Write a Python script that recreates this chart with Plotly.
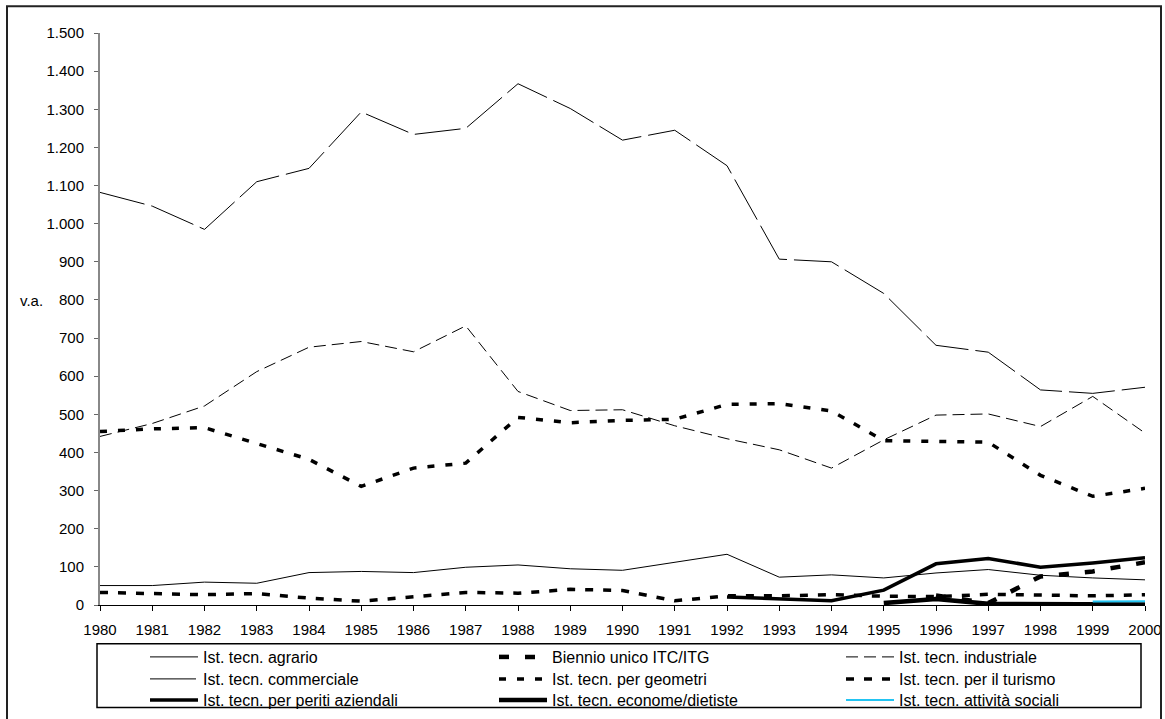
import plotly.graph_objects as go

# Anni scolastici
years = list(range(1980, 2001))

# Valori assoluti per tipo di istituto tecnico
agrario = [51, 51, 60, 57, 85, 88, 85, 99, 105, 95, 91, 112, 133, 73, 79, 71, 84, 93, 78, 71, 66]
biennio_unico = [None] * 16 + [25, 5, 75, 88, 112]
industriale = [442, 476, 522, 612, 676, 691, 664, 732, 560, 510, 512, 470, 436, 407, 359, 433, 498, 501, 468, 547, 451]
commerciale = [1082, 1046, 985, 1110, 1145, 1293, 1234, 1250, 1367, 1302, 1219, 1245, 1152, 907, 900, 817, 681, 663, 564, 555, 571]
geometri = [455, 462, 465, 423, 382, 311, 359, 372, 492, 478, 484, 487, 526, 528, 509, 431, 429, 427, 340, 285, 306]
turismo = [33, 29, 27, 30, 18, 10, 22, 33, 31, 41, 38, 11, 24, 24, 27, 23, 22, 28, 26, 24, 27]
periti_aziendali = [None] * 12 + [21, 17, 11, 39, 108, 122, 99, 110, 124]
economi_dietiste = [None] * 15 + [5, 16, 3, 2, 1, 1]
attivita_sociali = [None] * 19 + [9, 10]

y_ticks = list(range(0, 1501, 100))

FONT = "Liberation Sans, Arial, sans-serif"

# (nome, valori, colore, spessore, tratteggio, colonna, riga) della legenda
series = [
    ("Ist. tecn. agrario", agrario, "black", 1, "solid", 0, 0),
    ("Biennio unico ITC/ITG", biennio_unico, "black", 4.5, "10px,16px", 1, 0),
    ("Ist. tecn. industriale", industriale, "black", 1, "12px,6px", 2, 0),
    ("Ist. tecn. commerciale", commerciale, "black", 1, "46px,7px", 0, 1),
    ("Ist. tecn. per geometri", geometri, "black", 3.5, "7px,11px", 1, 1),
    ("Ist. tecn. per il turismo", turismo, "black", 3.5, "8px,10px", 2, 1),
    ("Ist. tecn. per periti aziendali", periti_aziendali, "black", 3.5, "solid", 0, 2),
    ("Ist. tecn. econome/dietiste", economi_dietiste, "black", 4.5, "solid", 1, 2),
    ("Ist. tecn. attività sociali", attivita_sociali, "#22C4F2", 2, "solid", 2, 2),
]

W, H = 1165, 719
L, R, T, B = 100, 20, 32.7, 113.7
pw, ph = W - L - R, H - T - B


def px_x(p):
    return (p - L) / pw


def px_y(p):
    return (H - B - p) / ph


# una legenda per voce, disposte in griglia 3x3 sotto il grafico
ITEM_W = 48
col_left = [163 - (ITEM_W - 30), 512 - (ITEM_W - 30), 859 - (ITEM_W - 30)]
row_top = [640, 662, 683]

legend_common = dict(
    orientation="v", yanchor="top", xanchor="left",
    xref="container", yref="container", itemwidth=ITEM_W,
    font=dict(family=FONT, size=16, color="black"),
    bgcolor="rgba(0,0,0,0)", borderwidth=0,
)

fig = go.Figure()
legends = {}
for i, (name, vals, color, width, dash, col, row) in enumerate(series):
    leg_id = "legend" if i == 0 else f"legend{i + 1}"
    fig.add_trace(go.Scatter(
        x=years, y=vals, name=name, mode="lines",
        line=dict(color=color, width=width, dash=dash),
        connectgaps=False, legend=leg_id,
    ))
    legends[leg_id] = dict(x=col_left[col] / W, y=(H - row_top[row]) / H,
                           **legend_common)

fig.update_layout(
    width=W, height=H,
    margin=dict(l=L, r=R, t=T, b=B, autoexpand=False),
    paper_bgcolor="white", plot_bgcolor="white",
    separators=",.",
    font=dict(family=FONT, size=15, color="black"),
    showlegend=True,
    **legends,
    xaxis=dict(
        range=[1980, 2000], tickmode="array", tickvals=years,
        ticktext=[str(y) for y in years],
        showgrid=False, zeroline=False, automargin=False,
        showline=True, linecolor="black", linewidth=1,
        ticks="outside", ticklen=5, tickcolor="black", tickwidth=1,
        ticklabelstandoff=6,
        tickfont=dict(family=FONT, size=15, color="black"),
    ),
    xaxis2=dict(
        range=[1980, 2000], overlaying="x", anchor="y", matches="x",
        tickmode="array", tickvals=years, showticklabels=False,
        showgrid=False, zeroline=False, showline=False,
        ticks="inside", ticklen=5, tickcolor="black", tickwidth=1,
    ),
    yaxis=dict(
        range=[0, 1500], tickmode="array", tickvals=y_ticks,
        tickformat=",d", showgrid=False, zeroline=False, automargin=False,
        showline=True, linecolor="#888888", linewidth=2,
        ticks="outside", ticklen=4, tickcolor="#666666", tickwidth=1,
        ticklabelstandoff=7,
        tickfont=dict(family=FONT, size=15, color="black"),
    ),
    annotations=[dict(
        text="v.a.", xref="paper", yref="paper",
        x=px_x(18), y=px_y(300), xanchor="left", yanchor="middle",
        showarrow=False, font=dict(family=FONT, size=15, color="black"),
    )],
    shapes=[
        # cornice esterna del grafico
        dict(type="rect", xref="paper", yref="paper",
             x0=px_x(7), x1=px_x(1161), y0=px_y(724), y1=px_y(6),
             line=dict(color="#222222", width=2), layer="above"),
        # riquadro della legenda
        dict(type="rect", xref="paper", yref="paper",
             x0=px_x(97), x1=px_x(1141), y0=px_y(708), y1=px_y(644),
             line=dict(color="black", width=1.5), layer="above"),
    ],
)

fig.write_html("out.html")
